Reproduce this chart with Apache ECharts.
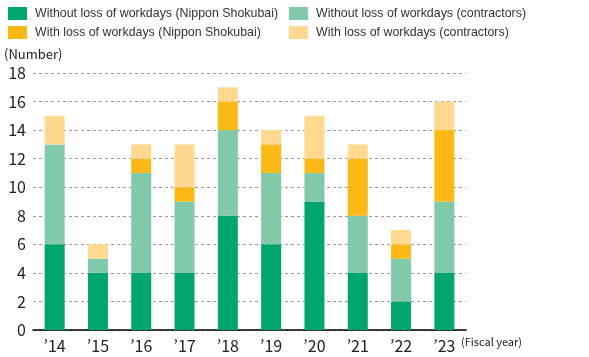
<!DOCTYPE html>
<html><head><meta charset="utf-8">
<script src="https://cdn.jsdelivr.net/npm/echarts@6/dist/echarts.min.js"></script>
<style>html,body{margin:0;padding:0;background:#fff}#c{width:589px;height:357px}</style>
</head><body><div id="c"></div>
<script>
const categories = ['’14','’15','’16','’17','’18','’19','’20','’21','’22','’23'];
const withoutNS = [6,4,4,4,8,6,9,4,2,4];
const withoutCon = [7,1,7,5,6,5,2,4,3,5];
const withNS = [0,0,1,1,2,2,1,4,1,5];
const withCon = [2,1,1,3,1,1,3,1,1,2];
const yTicks = [0,2,4,6,8,10,12,14,16,18];

const names = ['Without loss of workdays (Nippon Shokubai)','Without loss of workdays (contractors)','With loss of workdays (Nippon Shokubai)','With loss of workdays (contractors)'];
const colors = ['#00A66C','#80CAAA','#FCB814','#FFD990'];
const datas = [withoutNS, withoutCon, withNS, withCon];

const chart = echarts.init(document.getElementById('c'));
const legendStyle = {fontSize:12.4, color:'#333', fontFamily:'Liberation Sans, Arial, sans-serif', padding:[0,0,0,3]};
chart.setOption({
  animation:false,
  legend:[
    {orient:'vertical', left:8, top:7, itemWidth:19, itemHeight:13, itemGap:6, icon:'rect', padding:0, textStyle:legendStyle, data:[names[0],names[2]]},
    {orient:'vertical', left:289, top:7, itemWidth:19, itemHeight:13, itemGap:6, icon:'rect', padding:0, textStyle:legendStyle, data:[names[1],names[3]]}
  ],
  grid:{left:33, right:123, top:73, bottom:27},
  xAxis:{type:'category', data:categories,
    axisLine:{lineStyle:{color:'#000', width:1.5}}, axisTick:{show:false},
    axisLabel:{fontSize:16, color:'#222', margin:8, fontFamily:'Noto Sans CJK JP, sans-serif'}},
  yAxis:{type:'value', min:0, max:18, interval:2,
    axisLine:{show:false}, axisTick:{show:false},
    splitLine:{lineStyle:{color:'#999', type:[3,3], width:1}},
    axisLabel:{fontSize:16, color:'#222', margin:7, fontFamily:'Noto Sans CJK JP, sans-serif',
      formatter:v=>yTicks.includes(v)?String(v):''}},
  graphic:[
    {type:'text', left:4, top:48, style:{text:'(Number)', fontSize:13, fill:'#222', fontFamily:'Noto Sans CJK JP, sans-serif'}},
    {type:'text', left:461, top:336, style:{text:'(Fiscal year)', fontSize:11, fill:'#222', fontFamily:'Noto Sans CJK JP, sans-serif'}}
  ],
  series: datas.map((d,i)=>({name:names[i], type:'bar', stack:'a', data:d, barWidth:20,
    itemStyle:{color:colors[i]}, emphasis:{disabled:true}}))
});
</script></body></html>
